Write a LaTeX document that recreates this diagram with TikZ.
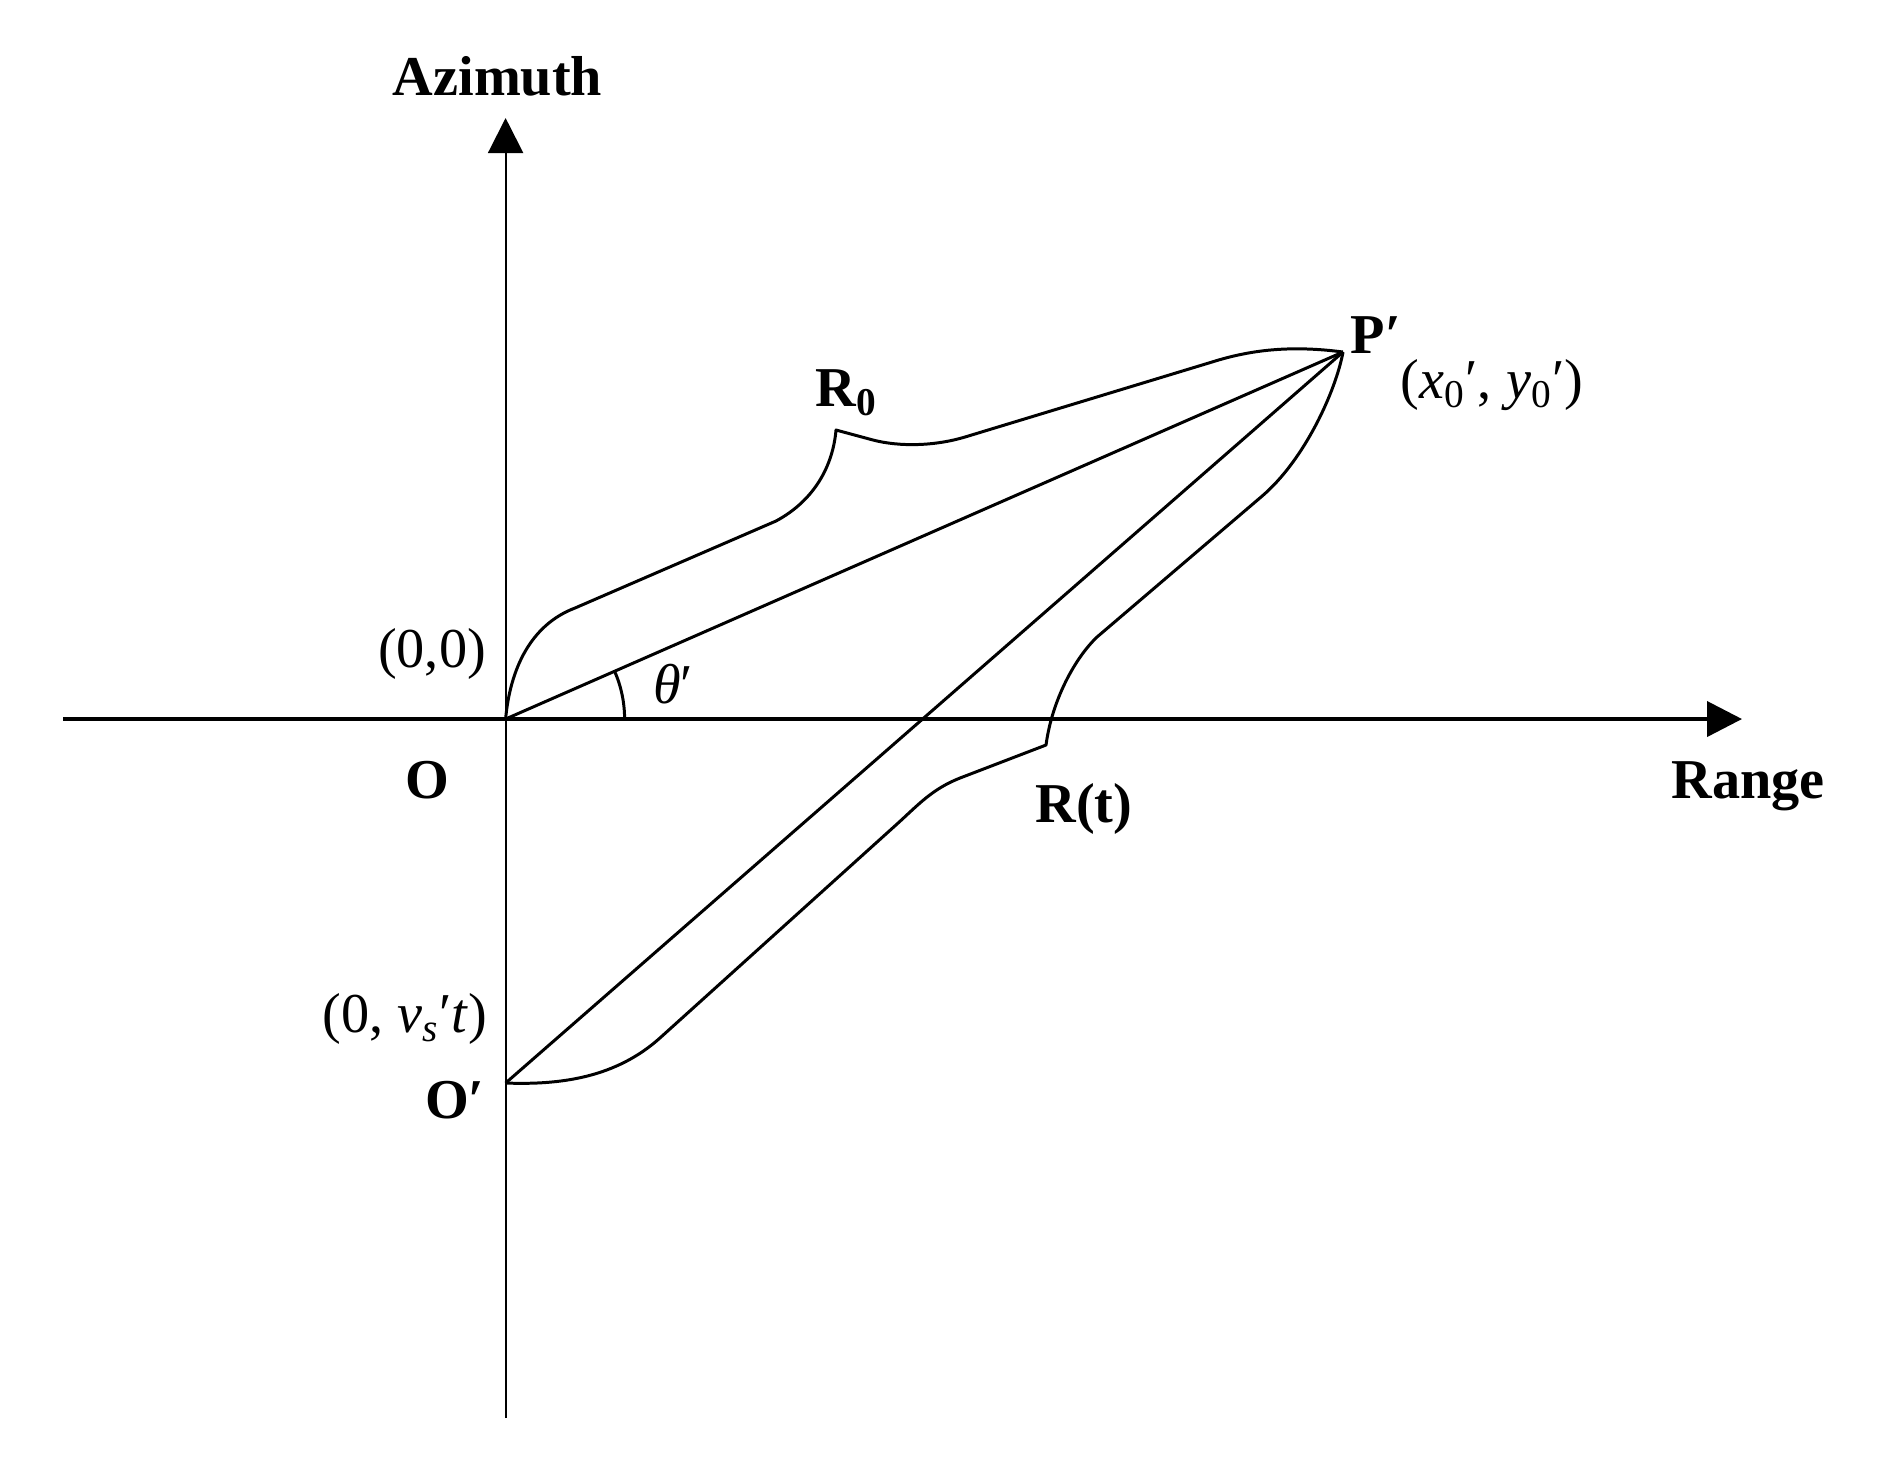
\documentclass[tikz,border=0pt]{standalone}
\usepackage{fontspec}
\setmainfont{Liberation Serif}
\usepackage{tikz}
\usetikzlibrary{arrows.meta}

\begin{document}
\begin{tikzpicture}[
        x=0.01cm, y=-0.01cm,
        axis/.style={-{Triangle[length=3.5mm,width=3.5mm]}},
        track/.style={line width=0.85pt, line join=round},
        lbl/.style={font=\fontsize{16}{19}\selectfont, inner sep=0pt, anchor=base},
        bold/.style={lbl, font=\fontsize{16}{19}\selectfont\bfseries}
    ]
        \useasboundingbox (0,0) rectangle (1901,1462);

        % points of the geometry
        \coordinate (o) at (505.6,719);
        \coordinate (p) at (1343,352);
        \coordinate (o2) at (505.6,1083);
        \coordinate (xl) at (63,719);
        \coordinate (xr) at (1742,719);
        \coordinate (yb) at (505.6,1418);
        \coordinate (yt) at (505.6,118);

        % axes
        \draw[axis, line width=1.15pt] (xl) -- (xr);
        \draw[axis, line width=0.6pt] (yb) -- (yt);

        % slant ranges
        \draw[track] (o) -- (p);
        \draw[track] (o2) -- (p);
        \draw[track] (o) ++(119,0) arc[start angle=0, end angle=23.7, radius=1.19cm];

        % braces
        \draw[track] (o) .. controls (510,670) and (530,625) .. (575,608)
            -- (776,521) .. controls (815,500) and (833,465) .. (836,430)
            -- (873,440) .. controls (900,447) and (935,446) .. (965,437)
            -- (1212,362) .. controls (1250,350) and (1290,345) .. (p);
        \draw[track] (p) .. controls (1336,390) and (1305,460) .. (1261,497)
            -- (1097,637) .. controls (1075,658) and (1052,700) .. (1046,745)
            -- (960,778) .. controls (932,789) and (918,805) .. (897,824)
            -- (661,1037) .. controls (616,1078) and (560,1085) .. (o2);

        % labels
        \node[bold] (az) at (497.5,95) {Azimuth};
        \node[bold] (rg) at (1748,798) {Range};
        \node[bold] (olbl) at (427,798) {O};
        \node[bold] (o2lbl) at (455,1118) {O′};
        \node[lbl] (zero) at (432,667) {(0,0)};
        \node[lbl] (vst) at (405,1032) {(0, \textit{v}\textsubscript{\textit{s}}′\textit{t})};
        \node[lbl] (th) at (673,703) {\textit{θ}′};
        \node[bold] (r0) at (847,406) {R\textsubscript{0}};
        \node[bold] (rt) at (1084,822) {R(t)};
        \node[bold] (plbl) at (1376,353) {P′};
        \node[lbl] (pxy) at (1492,398) {(\textit{x}\textsubscript{0}′, \textit{y}\textsubscript{0}′)};
    \end{tikzpicture}
\end{document}
